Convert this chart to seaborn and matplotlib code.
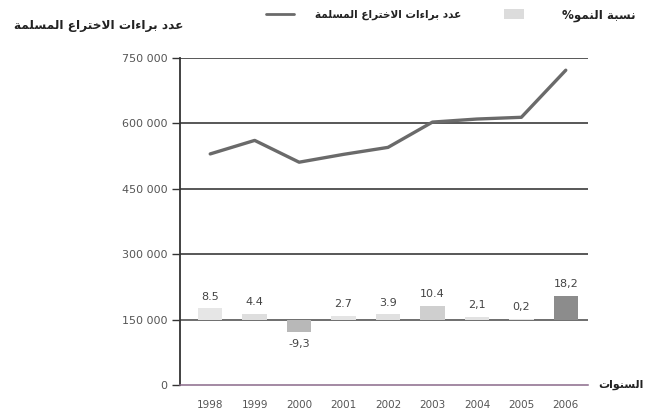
import numpy as np
import pandas as pd
import matplotlib
matplotlib.use("Agg")
import matplotlib.pyplot as plt
from matplotlib.lines import Line2D
from matplotlib.patches import Patch
import seaborn as sns

# ---------------- data ----------------
years = ["1998", "1999", "2000", "2001", "2002", "2003", "2004", "2005", "2006"]
patents = [530000, 561000, 511000, 529000, 545000, 603000, 610000, 614000, 722000]
growth = [8.5, 4.4, -9.3, 2.7, 3.9, 10.4, 2.1, 0.2, 18.2]
growth_labels = ["8.5", "4.4", "-9,3", "2.7", "3.9", "10.4", "2,1", "0,2", "18,2"]
y_ticks = [0, 150000, 300000, 450000, 600000, 750000]
y_tick_labels = ["0", "150 000", "300 000", "450 000", "600 000", "750 000"]

title_y = "عدد براءات الاختراع المسلمة"
legend_line = "عدد براءات الاختراع المسلمة"
legend_bar = "نسبة النمو%"
x_title = "السنوات"

# bars of the growth rate are drawn on a base line at 150 000
bar_base = 150000
bar_scale = 3000  # units per percent
bar_colors = ["#e6e6e6", "#dedede", "#b8b8b8", "#e4e4e4", "#e0e0e0",
              "#cfcfcf", "#e2e2e2", "#e0e0e0", "#8c8c8c"]

# ---------------- Arabic shaping (presentation forms) ----------------
FORMS = {  # isolated, final, initial, medial
    "\u0627": ("\uFE8D", "\uFE8E", None, None),
    "\u0628": ("\uFE8F", "\uFE90", "\uFE91", "\uFE92"),
    "\u0629": ("\uFE93", "\uFE94", None, None),
    "\u062A": ("\uFE95", "\uFE96", "\uFE97", "\uFE98"),
    "\u062E": ("\uFEA5", "\uFEA6", "\uFEA7", "\uFEA8"),
    "\u062F": ("\uFEA9", "\uFEAA", None, None),
    "\u0631": ("\uFEAD", "\uFEAE", None, None),
    "\u0633": ("\uFEB1", "\uFEB2", "\uFEB3", "\uFEB4"),
    "\u0639": ("\uFEC9", "\uFECA", "\uFECB", "\uFECC"),
    "\u0644": ("\uFEDD", "\uFEDE", "\uFEDF", "\uFEE0"),
    "\u0645": ("\uFEE1", "\uFEE2", "\uFEE3", "\uFEE4"),
    "\u0646": ("\uFEE5", "\uFEE6", "\uFEE7", "\uFEE8"),
    "\u0648": ("\uFEED", "\uFEEE", None, None),
    "\u0621": ("\uFE80", None, None, None),
    "LA": ("\uFEFB", "\uFEFC", None, None),
}


def shape(text):
    # merge lam + alef into ligature tokens
    toks = []
    i = 0
    while i < len(text):
        if text[i] == "\u0644" and i + 1 < len(text) and text[i + 1] == "\u0627":
            toks.append("LA")
            i += 2
        else:
            toks.append(text[i])
            i += 1

    def joins_next(t):
        f = FORMS.get(t)
        return f is not None and f[2] is not None

    def joins_prev(t):
        f = FORMS.get(t)
        return f is not None and f[1] is not None

    out = []
    for k, t in enumerate(toks):
        f = FORMS.get(t)
        if f is None:
            out.append(t)
            continue
        prev_ok = k > 0 and joins_next(toks[k - 1]) and joins_prev(t)
        next_ok = k + 1 < len(toks) and joins_next(t) and joins_prev(toks[k + 1])
        if prev_ok and next_ok:
            out.append(f[3])
        elif prev_ok:
            out.append(f[1])
        elif next_ok:
            out.append(f[2])
        else:
            out.append(f[0])
    return "".join(out)[::-1]


# ---------------- figure ----------------
sns.set_theme(style="white")
plt.rcParams["font.family"] = ["DejaVu Sans"]

fig = plt.figure(figsize=(6.48, 4.2), dpi=100)
ax = fig.add_axes([180 / 648, 1 - 385 / 420, 408 / 648, 327 / 420])

df = pd.DataFrame({"year": years, "patents": patents,
                   "bar": [g * bar_scale for g in growth]})

# grid lines
for v in y_ticks[2:]:
    ax.axhline(v, color="#4a4a4a", lw=1.3, zorder=1)
ax.axhline(bar_base, color="#555555", lw=1.2, zorder=1)

# growth bars
sns.barplot(data=df, x="year", y="bar", hue="year", palette=bar_colors,
            legend=False, width=0.55, bottom=bar_base, ax=ax, zorder=2,
            edgecolor="none")

# patents line
sns.lineplot(data=df, x="year", y="patents", color="#6a6a6a", lw=2.4,
             ax=ax, zorder=3, sort=False)

# bar value labels
for i, (g, lab) in enumerate(zip(growth, growth_labels)):
    top = bar_base + g * bar_scale
    if g >= 0:
        ax.annotate(lab, (i, top), xytext=(0, 5), textcoords="offset points",
                    ha="center", va="bottom", fontsize=8, color="#444444")
    else:
        ax.annotate(lab, (i, top), xytext=(0, -5), textcoords="offset points",
                    ha="center", va="top", fontsize=8, color="#444444")

ax.set_xlim(-0.68, 8.5)
ax.set_ylim(0, 750000)
ax.set_yticks(y_ticks)
ax.set_yticklabels(y_tick_labels, fontsize=8, color="#555555")
ax.set_xticks(range(len(years)))
ax.set_xticklabels(years, fontsize=7.5, color="#555555")
ax.set_xticks(np.arange(-0.5, len(years), 1.0), minor=True)
ax.tick_params(axis="x", which="major", length=0, pad=11)
ax.tick_params(axis="x", which="minor", length=7, direction="inout",
               color="#444444", width=0.9)
ax.tick_params(axis="y", length=6, direction="out", color="#333333",
               width=1.0, left=True, pad=3)
ax.set_xlabel("")
ax.set_ylabel("")

for s in ["top", "right"]:
    ax.spines[s].set_visible(False)
ax.spines["left"].set_color("#333333")
ax.spines["left"].set_linewidth(1.3)
ax.spines["bottom"].set_color("#8a6a8a")
ax.spines["bottom"].set_linewidth(1.1)

# titles
fig.text(183 / 648, 1 - 25 / 420, shape(title_y), ha="right", va="center",
         fontsize=8.7, fontweight="bold", color="#222222")
fig.text(598 / 648, 1 - 385 / 420, shape(x_title), ha="left", va="center",
         fontsize=8, fontweight="bold", color="#222222")

# legend (two entries, right-to-left layout)
leg1 = fig.legend([Line2D([0], [0], color="#6a6a6a", lw=2.0)],
                  [shape(legend_line)], loc="center right",
                  bbox_to_anchor=(461 / 648, 1 - 15 / 420),
                  frameon=False, prop={"size": 7.6, "weight": "bold"},
                  handlelength=2.6, handletextpad=2.0, borderpad=0,
                  borderaxespad=0, labelcolor="#222222")
leg2 = fig.legend([Patch(facecolor="#dcdcdc", edgecolor="none")],
                  [shape(legend_bar)], loc="center right",
                  bbox_to_anchor=(636 / 648, 1 - 15 / 420),
                  frameon=False, prop={"size": 8.6, "weight": "bold"},
                  handlelength=1.7, handleheight=0.9, handletextpad=3.2,
                  borderpad=0, borderaxespad=0, labelcolor="#222222")

fig.savefig("out.png", dpi=100)
